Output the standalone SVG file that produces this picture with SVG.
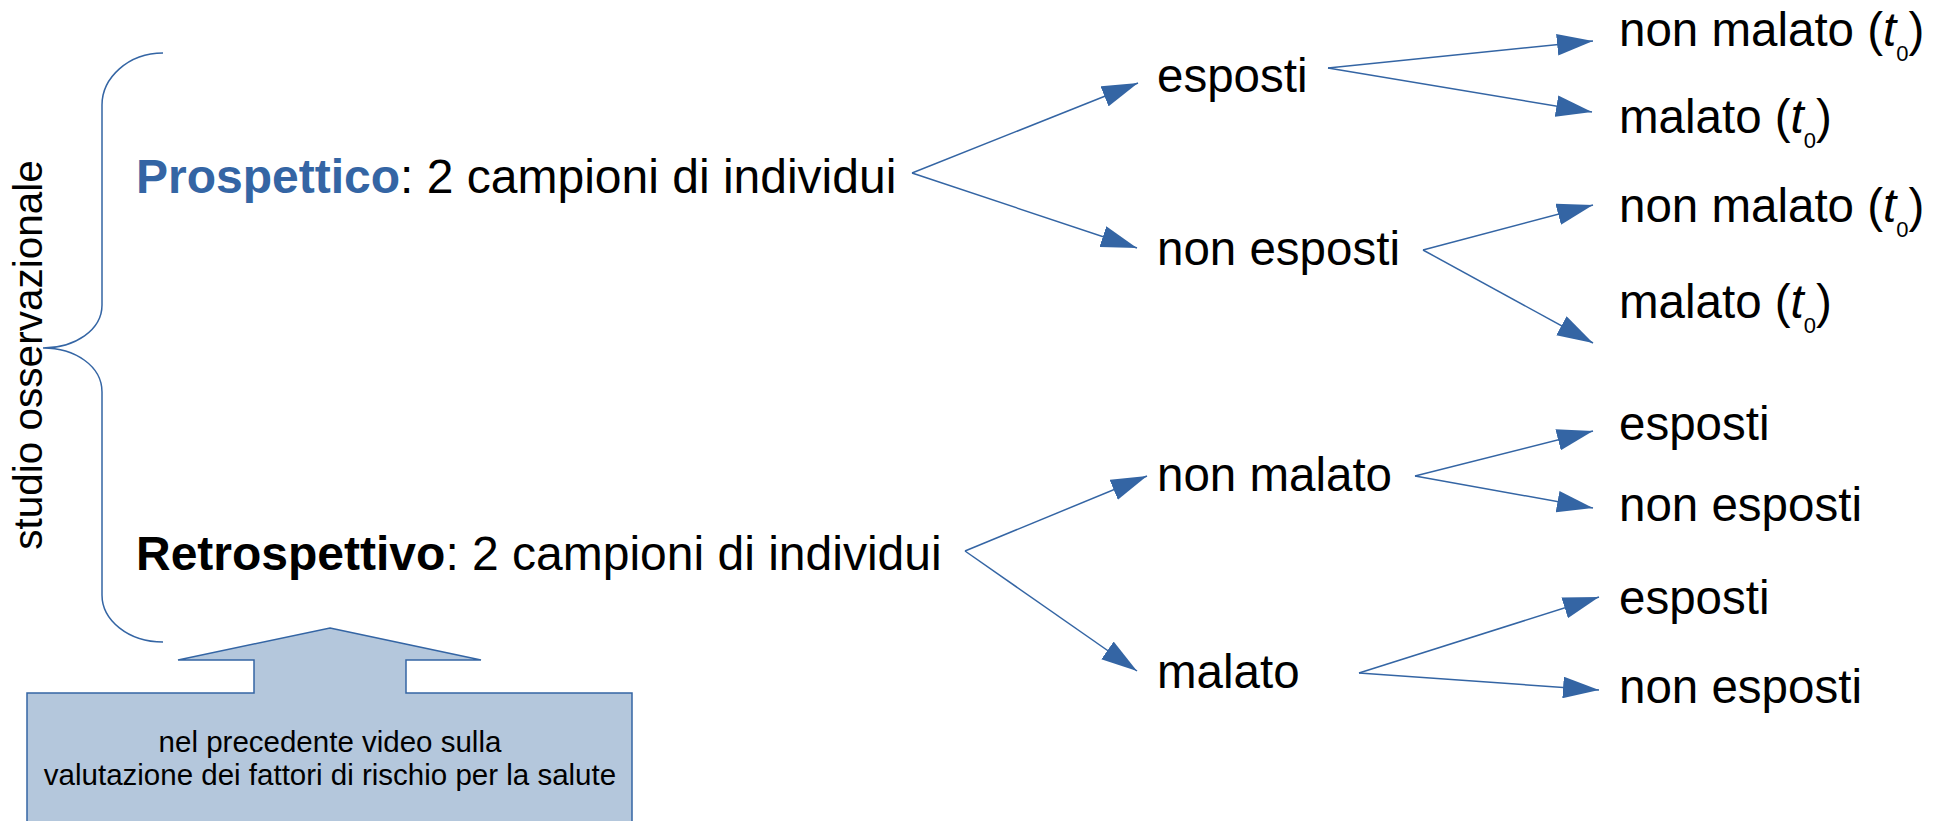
<svg xmlns="http://www.w3.org/2000/svg" width="1933" height="821" viewBox="0 0 1933 821">
<style>
text{font-family:"Liberation Sans",Arial,sans-serif;fill:#000}
.big{font-size:48px}
.lbl{font-size:47.5px}
.sub{font-size:22px}
.con line{stroke:#3465a4;stroke-width:1.5;fill:none}
.brace{stroke:#3465a4;stroke-width:1.5;fill:none}
.callout{fill:#b4c7dc;stroke:#3465a4;stroke-width:1.5}
.note{font-size:29.5px}
</style>
<defs>
<marker id="ah" markerUnits="userSpaceOnUse" markerWidth="36" markerHeight="22" refX="35" refY="10.5" orient="auto" viewBox="0 0 35 21">
<path d="M0,0 L35,10.5 L0,21 z" fill="#3465a4"/>
</marker>
</defs>
<rect width="1933" height="821" fill="#fff"/>
<g id="brace">
<path class="brace" d="M163,53 C128,53 102,78 102,105 L102,305 C102,330 75,348 43,348 C75,348 102,366 102,392 L102,595 C102,620 128,642 163,642"/>
<text transform="translate(42,355) rotate(-90)" text-anchor="middle" style="font-size:40.5px">studio osservazionale</text>
</g>
<g id="prospettico"><text class="big" x="136" y="193"><tspan font-weight="bold" style="fill:#3465a4">Prospettico</tspan>: 2 campioni di individui</text></g>
<g id="retrospettivo"><text class="big" x="136" y="570"><tspan font-weight="bold">Retrospettivo</tspan>: 2 campioni di individui</text></g>
<g id="p-esposti"><text class="lbl" x="1157" y="92">esposti</text></g>
<g id="p-nonesposti"><text class="lbl" x="1157" y="265">non esposti</text></g>
<g id="p-e-nonmalato"><text class="lbl" x="1619" y="46">non malato (<tspan font-style="italic">t</tspan><tspan class="sub" dy="15">0</tspan><tspan dy="-15">)</tspan></text></g>
<g id="p-e-malato"><text class="lbl" x="1619" y="133">malato (<tspan font-style="italic">t</tspan><tspan class="sub" dy="15">0</tspan><tspan dy="-15">)</tspan></text></g>
<g id="p-ne-nonmalato"><text class="lbl" x="1619" y="222">non malato (<tspan font-style="italic">t</tspan><tspan class="sub" dy="15">0</tspan><tspan dy="-15">)</tspan></text></g>
<g id="p-ne-malato"><text class="lbl" x="1619" y="318">malato (<tspan font-style="italic">t</tspan><tspan class="sub" dy="15">0</tspan><tspan dy="-15">)</tspan></text></g>
<g id="r-nonmalato"><text class="lbl" x="1157" y="491">non malato</text></g>
<g id="r-malato"><text class="lbl" x="1157" y="688">malato</text></g>
<g id="r-nm-esposti"><text class="lbl" x="1619" y="440">esposti</text></g>
<g id="r-nm-nonesposti"><text class="lbl" x="1619" y="521">non esposti</text></g>
<g id="r-m-esposti"><text class="lbl" x="1619" y="614">esposti</text></g>
<g id="r-m-nonesposti"><text class="lbl" x="1619" y="703">non esposti</text></g>
<g id="note">
<path class="callout" d="M330,628 L481,660 L406,660 L406,693 L632,693 L632,830 L27,830 L27,693 L254,693 L254,660 L178,660 Z"/>
<text class="note" x="330" y="752" text-anchor="middle">nel precedente video sulla</text>
<text class="note" x="330" y="785" text-anchor="middle">valutazione dei fattori di rischio per la salute</text>
</g>
<g class="con" id="connectors">
<line x1="912" y1="173" x2="1138" y2="83" marker-end="url(#ah)"/>
<line x1="912" y1="173" x2="1137" y2="248" marker-end="url(#ah)"/>
<line x1="1328" y1="68" x2="1593" y2="41" marker-end="url(#ah)"/>
<line x1="1328" y1="68" x2="1592" y2="112" marker-end="url(#ah)"/>
<line x1="1423" y1="250" x2="1593" y2="205" marker-end="url(#ah)"/>
<line x1="1423" y1="250" x2="1593" y2="343" marker-end="url(#ah)"/>
<line x1="965" y1="551" x2="1147" y2="476" marker-end="url(#ah)"/>
<line x1="965" y1="551" x2="1137" y2="671" marker-end="url(#ah)"/>
<line x1="1415" y1="476" x2="1593" y2="431" marker-end="url(#ah)"/>
<line x1="1415" y1="476" x2="1593" y2="508" marker-end="url(#ah)"/>
<line x1="1359" y1="673" x2="1599" y2="597" marker-end="url(#ah)"/>
<line x1="1359" y1="673" x2="1599" y2="690" marker-end="url(#ah)"/>
</g>
</svg>
